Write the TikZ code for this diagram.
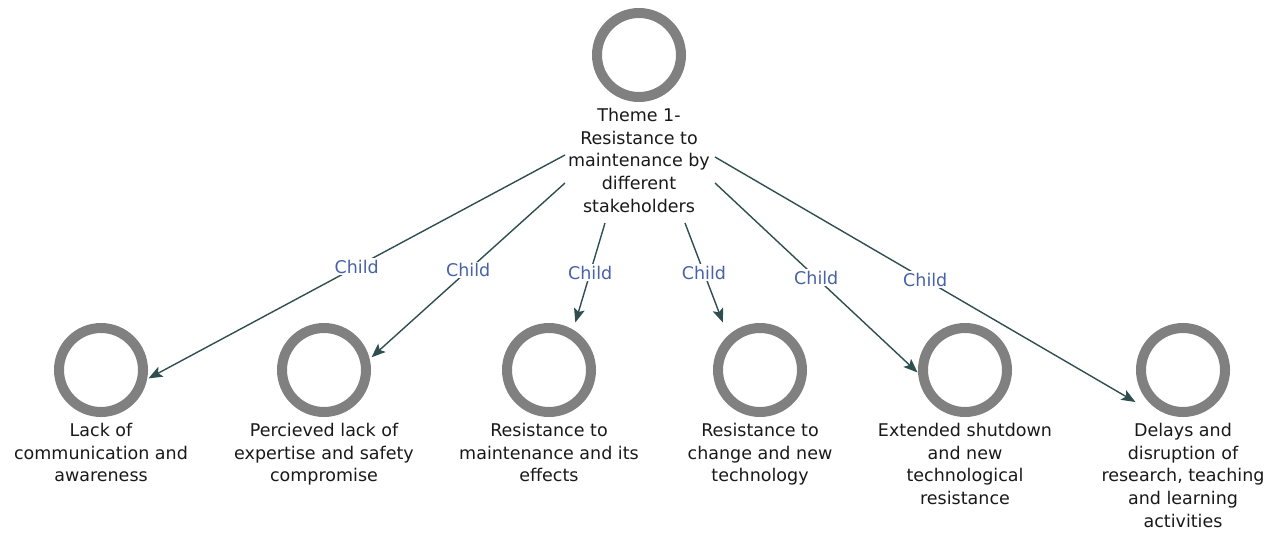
\documentclass[tikz,border=0pt]{standalone}
\usepackage{fontspec}
\setmainfont{DejaVu Sans}
\usetikzlibrary{arrows.meta}
\definecolor{ringgrey}{RGB}{128,128,128}
\definecolor{edgecol}{RGB}{47,79,79}
\definecolor{lblblue}{RGB}{72,98,168}
\begin{document}
\begin{tikzpicture}[x=1pt,y=-1pt,
  icon/.style={rectangle, minimum size=95pt, inner sep=0pt, outer sep=0pt,
    path picture={\draw[ringgrey, line width=10pt] (path picture bounding box.center) circle[radius=42pt];}},
  caption/.style={anchor=north, align=center, inner sep=0pt, text=black!90, font=\fontsize{17.5}{22.7}\selectfont},
  link/.style={draw=edgecol, line width=1.4pt, -{Stealth[length=14pt,width=11pt,inset=3pt]}},
  childlbl/.style={fill=white, text=lblblue, inner sep=1.5pt, font=\fontsize{17.5}{20}\selectfont}
]
\useasboundingbox (0,0) rectangle (1273,533);

% parent theme
\node[icon] (theme) at (639,55) {};
\node[caption] (themetxt) at (639,108) {Theme 1-\\Resistance to\\maintenance by\\different\\stakeholders};

% child codes
\node[icon] (c1) at (101,370) {};
\node[icon] (c2) at (324,370) {};
\node[icon] (c3) at (549,370) {};
\node[icon] (c4) at (760,370) {};
\node[icon] (c5) at (965,370) {};
\node[icon] (c6) at (1183,370) {};

\node[caption] (t1) at (101,423) {Lack of\\communication and\\awareness};
\node[caption] (t2) at (324,423) {Percieved lack of\\expertise and safety\\compromise};
\node[caption] (t3) at (549,423) {Resistance to\\maintenance and its\\effects};
\node[caption] (t4) at (760,423) {Resistance to\\change and new\\technology};
\node[caption] (t5) at (965,423) {Extended shutdown\\and new\\technological\\resistance};
\node[caption] (t6) at (1183,423) {Delays and\\disruption of\\research, teaching\\and learning\\activities};

% connector start points around the theme caption
\coordinate (s1) at (565,155);
\coordinate (s2) at (565,183);
\coordinate (s3) at (605,223);
\coordinate (s4) at (685,223);
\coordinate (s5) at (715,183);
\coordinate (s6) at (715,157);

\draw[link] (s1) -- node[childlbl] {Child} (c1.-10);
\draw[link] (s2) -- node[childlbl] {Child} (c2.15);
\draw[link] (s3) -- node[childlbl] {Child} (c3.61);
\draw[link] (s4) -- node[childlbl] {Child} (c4.128);
\draw[link] (s5) -- node[childlbl] {Child} (c5.183);
\draw[link] (s6) -- node[childlbl] {Child} (c6.214);
\end{tikzpicture}
\end{document}
